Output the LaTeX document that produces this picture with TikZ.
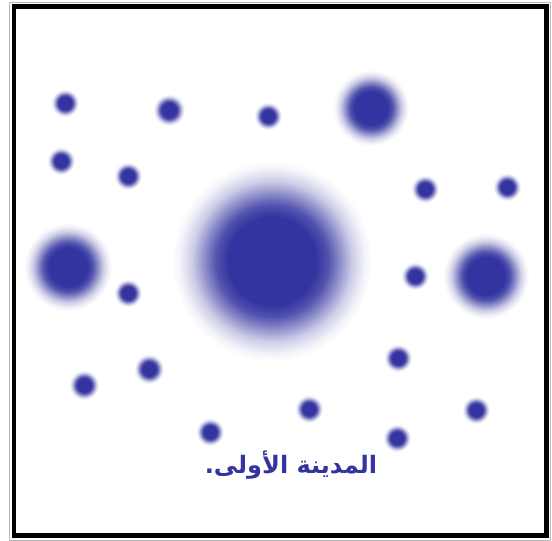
\documentclass[tikz,border=0pt]{standalone}
\usepackage{fontspec}
\usepackage{xcolor}
\usepackage{tikz}
\newfontfamily\arabicfont[Script=Arabic]{DejaVu Sans}
\TeXXeTstate=1
\definecolor{dotblue}{RGB}{52,52,160}
\pgfdeclareradialshading{blurdot}{\pgfpoint{0bp}{0bp}}{color(0bp)=(dotblue); color(11bp)=(dotblue); color(14bp)=(dotblue!85!white); color(17bp)=(dotblue!55!white); color(20bp)=(dotblue!25!white); color(23bp)=(dotblue!7!white); color(25bp)=(white); color(50bp)=(white)}

\begin{document}
\begin{tikzpicture}[x=1pt, y=-1pt,
  dot/.style={shading=blurdot},
  caption/.style={font=\arabicfont\bfseries\fontsize{24}{28}\selectfont, text=dotblue}
]
\useasboundingbox (0,0) rectangle (552,541);
\draw[gray!55, line width=0.8pt] (9,2) rectangle (550.5,540);
\draw[black, line width=4.5pt] (14,6.5) rectangle (546.5,535.5);
\foreach \x/\y/\r in {65/103/14,169/110/16,268/116/14,61/161/14,128/176/14,
  425/189/14,507/187/14,128/293/14,415/276/14,84/385/15,149/369/15,
  398/358/14,309/409/14,210/432/14,397/438/14,476/410/14,
  371/108/38,68/267/44,486/276/43,272/261/100}
  \shade[dot] (\x,\y) circle (\r pt);
\node[caption] (title) at (291,465) {\beginR المدينة الأولى.\endR};
\end{tikzpicture}
\end{document}
